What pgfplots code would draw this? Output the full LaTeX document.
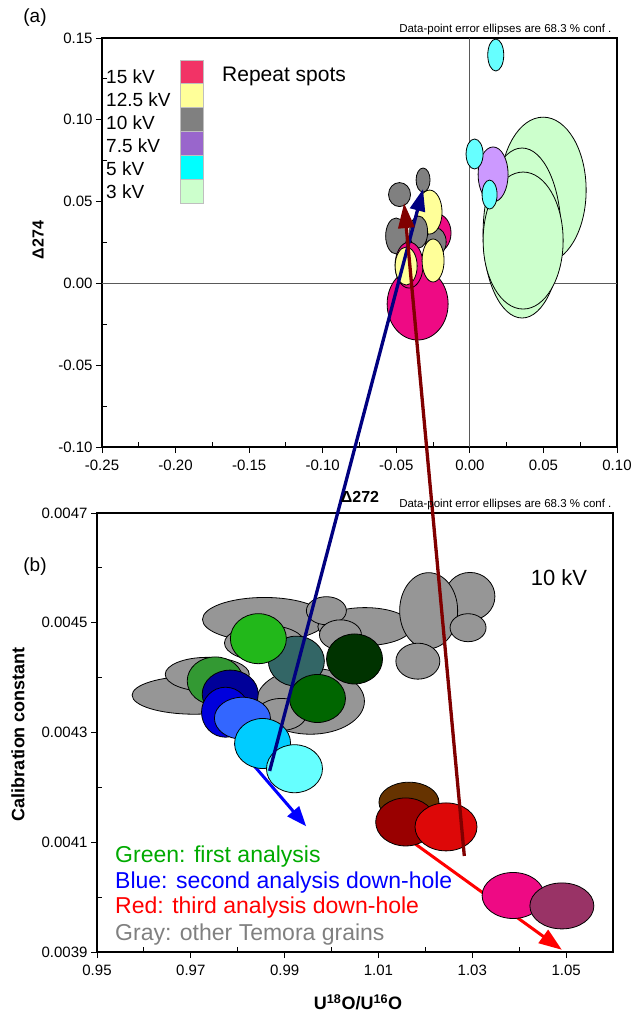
\documentclass[border=0pt]{standalone}
\usepackage{fontspec}
\setmainfont{Liberation Sans}
\usepackage{pgfplots}
\usepackage{pgfplotstable}
\pgfplotsset{compat=1.18}
\usetikzlibrary{arrows.meta}

% repeat-spot colours (a)
\definecolor{tmag}{RGB}{238,10,132}
\definecolor{tyel}{RGB}{255,255,153}
\definecolor{tgry}{RGB}{128,128,128}
\definecolor{tpur}{RGB}{204,153,255}
\definecolor{tcya}{RGB}{102,255,255}
\definecolor{tgrn}{RGB}{204,255,204}
\definecolor{l15}{RGB}{242,51,102}
\definecolor{l75}{RGB}{153,102,204}
\definecolor{l5}{RGB}{0,255,255}
% Temora colours (b)
\definecolor{bgry}{RGB}{150,150,150}
\definecolor{bgA}{RGB}{34,184,26}
\definecolor{bgB}{RGB}{51,153,51}
\definecolor{bnav}{RGB}{0,0,153}
\definecolor{bblu}{RGB}{0,0,221}
\definecolor{broy}{RGB}{51,102,255}
\definecolor{btea}{RGB}{51,102,102}
\definecolor{bvdg}{RGB}{0,51,0}
\definecolor{bdg}{RGB}{0,102,0}
\definecolor{bsky}{RGB}{0,204,255}
\definecolor{blcy}{RGB}{102,255,255}
\definecolor{bbro}{RGB}{102,51,0}
\definecolor{bdre}{RGB}{153,0,0}
\definecolor{bred}{RGB}{221,8,8}
\definecolor{bmag}{RGB}{238,10,132}
\definecolor{bplu}{RGB}{153,51,102}
\definecolor{arrnavy}{RGB}{0,0,128}
\definecolor{arrdred}{RGB}{128,0,0}
\definecolor{arrgrn}{RGB}{0,128,0}
\definecolor{txtgrn}{RGB}{0,170,0}

% error ellipse mark, radii (pt) come from the table
\def\rx{5}\def\ry{5}
\pgfdeclareplotmark{ell}{%
  \pgfpathellipse{\pgfpointorigin}{\pgfpoint{\rx pt}{0pt}}{\pgfpoint{0pt}{\ry pt}}%
  \pgfusepathqfillstroke}

\pgfplotsset{
  ellplot/.style={scatter, only marks, mark=ell, point meta=explicit symbolic,
    visualization depends on={\thisrow{rx}\as\rx},
    visualization depends on={\thisrow{ry}\as\ry},
    mark options={draw=black, line width=0.8pt}},
}

% x y rx ry class
\pgfplotstableread{
x y rx ry c
-0.0355 -0.0126 30.5 36 M
-0.0223 0.0308 14 19 M
-0.0229 0.0253 10 14 G
-0.0274 0.0436 12.5 22 Y
-0.0478 0.0543 11 12 G
-0.0318 0.0632 7 12 G
-0.0501 0.0290 10.5 18 G
-0.0348 0.0314 9 16 G
-0.0413 0.0112 14 23 M
-0.0433 0.0106 11 19 Y
-0.0250 0.0140 11 21.5 Y
0.0498 0.0570 43 73 L
0.0355 0.0308 39 85 L
0.0362 0.0262 40 68.5 L
0.0158 0.0666 15 27.5 P
0.0032 0.0791 8.5 15 C
0.0134 0.0543 7.5 14.5 C
0.0176 0.1396 8 16 C
}\toptab

\pgfplotstableread{
x y rx ry c
0.9707 0.004368 62 19 g
0.9735 0.004406 42 17 g
0.9857 0.004506 62 22 g
0.9857 0.004463 40 18 g
0.9955 0.004357 54 33 g
0.9893 0.004333 25 16 g
1.0071 0.004493 47 19 g
0.9989 0.004522 20 14 g
1.0019 0.004478 21 15 g
1.0295 0.004548 25 24 g
1.0207 0.004522 29 38 g
1.0291 0.004491 18 14 g
1.0184 0.004430 22 18 g
0.9925 0.004430 28 25 t
0.9844 0.004471 28 25 a
0.9752 0.004394 28 24 b
0.9784 0.004370 28 24 n
0.9774 0.004337 24 25 u
0.9810 0.004326 28 21 r
0.9970 0.004362 28 24 d
1.0049 0.004434 28 25 v
0.9853 0.004280 28 25 s
0.9921 0.004234 28 24 c
1.0165 0.004173 30 20 w
1.0158 0.004137 30 24 x
1.0244 0.004128 31 24 e
1.0387 0.004003 31 23 m
1.0491 0.003984 32 23 p
}\bottab

\begin{document}
\begin{tikzpicture}
\useasboundingbox (0,0) rectangle (631pt,-1014pt);

% (a) delta plot
\begin{axis}[
  at={(102pt,-447pt)}, anchor=south west, scale only axis,
  width=515pt, height=409pt,
  xmin=-0.25, xmax=0.10, ymin=-0.10, ymax=0.15,
  xtick={-0.25,-0.20,-0.15,-0.10,-0.05,0,0.05,0.10},
  ytick={-0.10,-0.05,0,0.05,0.10,0.15},
  extra x ticks={-0.225,-0.175,-0.125,-0.075,-0.025,0.025,0.075},
  extra y ticks={-0.075,-0.025,0.025,0.075,0.125},
  extra x tick labels={}, extra y tick labels={},
  extra tick style={tick align=inside, major tick length=5pt},
  tick pos=left, tick align=outside, major tick length=6pt,
  scaled ticks=false,
  /pgf/number format/.cd, fixed, fixed zerofill, precision=2, assume math mode=true, /pgfplots/.cd,
  tick label style={font=\fontsize{15}{15}\selectfont},
  xticklabel style={yshift=-3pt},
  axis line style={line width=1.1pt}, tick style={line width=0.9pt, black},
  clip=false,
]
\addplot[line width=0.8pt, black!65] coordinates {(0,-0.10) (0,0.15)};
\addplot[line width=0.8pt, black!65] coordinates {(-0.25,0) (0.10,0)};
\addplot[ellplot, scatter/classes={
    M={fill=tmag}, Y={fill=tyel}, G={fill=tgry},
    P={fill=tpur}, C={fill=tcya}, L={fill=tgrn}}]
  table[x=x, y=y, meta=c] {\toptab};
\coordinate (ntip) at (axis cs:-0.0318,0.0577);
\coordinate (rtip) at (axis cs:-0.0447,0.0491);
\end{axis}

% (b) calibration plot
\begin{axis}[
  at={(97pt,-952pt)}, anchor=south west, scale only axis,
  width=516pt, height=439pt,
  xmin=0.95, xmax=1.06, ymin=0.0039, ymax=0.0047,
  xtick={0.95,0.97,0.99,1.01,1.03,1.05},
  ytick={0.0039,0.0041,0.0043,0.0045,0.0047},
  extra x ticks={0.96,0.98,1.00,1.02,1.04},
  extra y ticks={0.0040,0.0042,0.0044,0.0046},
  extra x tick labels={}, extra y tick labels={},
  extra tick style={tick align=inside, major tick length=5pt},
  tick pos=left, tick align=outside, major tick length=6pt,
  scaled ticks=false,
  xticklabel style={/pgf/number format/.cd, fixed, fixed zerofill, precision=2, /tikz/yshift=-3pt},
  yticklabel style={/pgf/number format/.cd, fixed, fixed zerofill, precision=4},
  /pgf/number format/assume math mode=true,
  tick label style={font=\fontsize{15}{15}\selectfont},
  axis line style={line width=1.1pt}, tick style={line width=0.9pt, black},
  clip=false,
]
\addplot[ellplot, scatter/classes={
    g={fill=bgry}, a={fill=bgA}, b={fill=bgB}, n={fill=bnav}, u={fill=bblu},
    r={fill=broy}, t={fill=btea}, v={fill=bvdg}, d={fill=bdg}, s={fill=bsky},
    c={fill=blcy}, w={fill=bbro}, x={fill=bdre}, e={fill=bred}, m={fill=bmag},
    p={fill=bplu}}]
  table[x=x, y=y, meta=c] {\bottab};
\addplot[arrgrn, line width=3pt, -{Triangle[length=24pt,width=16pt]}]
  coordinates {(1.0053,0.004372) (0.9814,0.004352)};
\addplot[blue, line width=3pt, -{Triangle[length=20pt,width=15pt]}]
  coordinates {(0.9794,0.004280) (0.9946,0.004129)};
\addplot[red, line width=3pt, -{Triangle[length=23pt,width=16pt]}]
  coordinates {(1.0128,0.004128) (1.0491,0.003904)};
\coordinate (nbase) at (axis cs:0.9868,0.004230);
\coordinate (rbase) at (axis cs:1.0283,0.004075);
\end{axis}

% arrows linking the two panels
\draw[arrnavy, line width=3.3pt, -{Triangle[length=22pt,width=15pt]}] (nbase) -- (ntip);
\draw[arrdred, line width=3.3pt, -{Triangle[length=25pt,width=16pt]}] (rbase) -- (rtip);

% panel texts
\node[font=\fontsize{19}{19}\selectfont] at (35pt,-18pt) {(a)};
\node[font=\fontsize{19}{19}\selectfont] at (35pt,-567pt) {(b)};
\node[anchor=east, font=\fontsize{11.5}{12}\selectfont] at (615pt,-30pt) {Data-point error ellipses are 68.3 \% conf .};
\node[anchor=east, font=\fontsize{11.5}{12}\selectfont] at (615pt,-505pt) {Data-point error ellipses are 68.3 \% conf .};
\node[rotate=90, font=\bfseries\fontsize{16}{16}\selectfont] at (38pt,-240pt) {Δ274};
\node[font=\bfseries\fontsize{16}{16}\selectfont] at (360pt,-497pt) {Δ272};
\node[rotate=90, font=\bfseries\fontsize{18}{18}\selectfont] at (18pt,-734pt) {Calibration constant};
\node[font=\bfseries\fontsize{18}{18}\selectfont] at (358pt,-1002pt) {U\textsuperscript{18}O/U\textsuperscript{16}O};

% repeat spots key
\foreach \c/\t [count=\i from 0] in {l15/15 kV, tyel/12.5 kV, tgry/10 kV, l75/7.5 kV, l5/5 kV, tgrn/3 kV}{
  \filldraw[fill=\c, draw=black!25, line width=0.6pt] (180pt,{-60pt-\i*23.8pt}) rectangle (203pt,{-83.8pt-\i*23.8pt});
  \node[anchor=west, font=\fontsize{19}{19}\selectfont, inner sep=0pt] at (106pt,{-77pt-\i*23pt}) {\t};
}
\node[anchor=west, font=\fontsize{21}{21}\selectfont, inner sep=0pt] at (222pt,-76pt) {Repeat spots};

\node[font=\fontsize{22}{22}\selectfont] at (559pt,-578pt) {10 kV};
\node[anchor=west, inner sep=0pt, font=\fontsize{23}{23}\selectfont, text=txtgrn] at (115pt,-857pt) {Green: first analysis};
\node[anchor=west, inner sep=0pt, font=\fontsize{23}{23}\selectfont, text=blue] at (115pt,-883pt) {Blue: second analysis down-hole};
\node[anchor=west, inner sep=0pt, font=\fontsize{23}{23}\selectfont, text=red] at (115pt,-908pt) {Red: third analysis down-hole};
\node[anchor=west, inner sep=0pt, font=\fontsize{23}{23}\selectfont, text=black!50] at (115pt,-935pt) {Gray: other Temora grains};
\end{tikzpicture}
\end{document}
